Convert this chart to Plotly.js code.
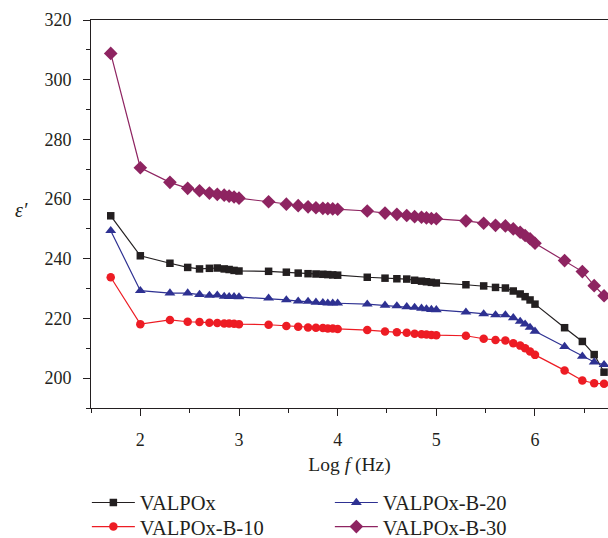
<!DOCTYPE html>
<html>
<head>
<meta charset="utf-8">
<script src="https://cdn.plot.ly/plotly-3.0.1.min.js"></script>
<style>html,body{margin:0;padding:0;background:#fff;}#chart{width:608px;height:538px;}</style>
</head>
<body>
<div id="chart"></div>
<script>
// Log f (Hz)
const logF = [1.7, 2, 2.3, 2.48, 2.6, 2.7, 2.78, 2.85, 2.9, 2.95, 3,
  3.3, 3.48, 3.6, 3.7, 3.78, 3.85, 3.9, 3.95, 4,
  4.3, 4.48, 4.6, 4.7, 4.78, 4.85, 4.9, 4.95, 5,
  5.3, 5.48, 5.6, 5.7, 5.78, 5.85, 5.9, 5.95, 6,
  6.3, 6.48, 6.6, 6.7];

const valpox = [254.4, 241.0, 238.5, 237.1, 236.6, 236.8, 236.9, 236.6, 236.4, 236.1, 235.9,
  235.8, 235.5, 235.2, 235.0, 234.9, 234.8, 234.7, 234.6, 234.5,
  233.8, 233.5, 233.3, 233.2, 232.8, 232.5, 232.3, 232.1, 231.9,
  231.3, 230.9, 230.4, 230.2, 229.2, 228.2, 227.3, 226.2, 224.8,
  216.9, 212.3, 207.9, 202.0];

const valpoxB10 = [233.8, 218.1, 219.5, 218.9, 218.8, 218.6, 218.5, 218.3, 218.3, 218.2, 218.1,
  217.9, 217.5, 217.2, 217.0, 216.9, 216.8, 216.6, 216.6, 216.5,
  216.1, 215.6, 215.4, 215.2, 214.9, 214.7, 214.6, 214.5, 214.4,
  214.2, 213.2, 212.8, 212.6, 211.7, 210.9, 210.0, 208.9, 207.8,
  202.6, 199.2, 198.3, 198.1];

const valpoxB20 = [249.4, 229.3, 228.5, 228.5, 228.0, 227.7, 227.8, 227.4, 227.3, 227.3, 227.2,
  226.8, 226.2, 225.8, 225.7, 225.4, 225.3, 225.1, 225.1, 225.1,
  224.8, 224.4, 224.2, 223.9, 223.7, 223.4, 223.2, 223.0, 222.9,
  222.1, 221.5, 221.2, 221.2, 220.2, 219.0, 218.1, 217.0, 215.7,
  210.6, 207.3, 205.4, 204.5];

const valpoxB30 = [308.8, 270.5, 265.6, 263.6, 262.8, 262.0, 261.6, 261.3, 261.0, 260.7, 260.3,
  259.1, 258.3, 257.8, 257.4, 257.1, 256.9, 256.8, 256.7, 256.6,
  256.0, 255.3, 254.9, 254.5, 254.1, 253.9, 253.7, 253.5, 253.4,
  252.7, 251.9, 251.2, 251.0, 250.0, 248.9, 247.8, 246.7, 245.2,
  239.4, 235.7, 231.0, 227.6];

const seriesNames = ['VALPOx', 'VALPOx-B-10', 'VALPOx-B-20', 'VALPOx-B-30'];

const FONT = 'Liberation Serif, Times New Roman, serif';

function tr(name, y, color, symbol, size, legend) {
  return {
    x: logF, y: y, name: name, type: 'scatter', mode: 'lines+markers',
    line: {color: color, width: 1.2},
    marker: {color: color, symbol: symbol, size: size},
    legend: legend
  };
}

const data = [
  tr(seriesNames[0], valpox, '#231f20', 'square', 7.5, 'legend'),
  tr(seriesNames[1], valpoxB10, '#ed1c24', 'circle', 8.5, 'legend2'),
  tr(seriesNames[2], valpoxB20, '#2e3192', 'triangle-up', 9.5, 'legend3'),
  tr(seriesNames[3], valpoxB30, '#8e2461', 'diamond', 10.5, 'legend4')
];

function leg(x, y) {
  return {
    x: x, y: y, orientation: 'v', xanchor: 'left', yanchor: 'middle',
    font: {family: FONT, size: 20.5, color: '#231f20'},
    bgcolor: 'rgba(0,0,0,0)', itemwidth: 43, borderwidth: 0
  };
}

const layout = {
  width: 608, height: 538,
  margin: {l: 91, r: 0, t: 20, b: 130, autoexpand: false},
  paper_bgcolor: '#fff', plot_bgcolor: '#fff',
  font: {family: FONT, size: 18, color: '#231f20'},
  showlegend: true,
  xaxis: {
    range: [1.5, 6.74], dtick: 1, tick0: 0,
    ticks: 'outside', ticklen: 7, tickwidth: 1, tickcolor: '#231f20',
    minor: {dtick: 0.5, ticks: 'outside', ticklen: 4, tickwidth: 1, tickcolor: '#231f20'},
    showline: true, linecolor: '#231f20', linewidth: 1, mirror: true,
    showgrid: false, zeroline: false,
    tickfont: {family: FONT, size: 18, color: '#231f20'},
    ticklabelstandoff: 8,
    title: {text: 'Log <i>f</i> (Hz)', font: {family: FONT, size: 19.5, color: '#231f20'}, standoff: 8}
  },
  yaxis: {
    range: [190, 320], dtick: 20, tick0: 0,
    ticks: 'outside', ticklen: 7, tickwidth: 1, tickcolor: '#231f20',
    minor: {dtick: 10, ticks: 'outside', ticklen: 4, tickwidth: 1, tickcolor: '#231f20'},
    showline: true, linecolor: '#231f20', linewidth: 1, mirror: true,
    showgrid: false, zeroline: false,
    tickfont: {family: FONT, size: 18, color: '#231f20'},
    ticklabelstandoff: 8
  },
  legend: leg(-0.008, -0.244),
  legend2: leg(-0.008, -0.306),
  legend3: leg(0.462, -0.244),
  legend4: leg(0.462, -0.306),
  annotations: [{
    xref: 'paper', yref: 'paper', x: -0.135, y: 0.51,
    xanchor: 'center', yanchor: 'middle', showarrow: false,
    text: '<i>ε′</i>', font: {family: FONT, size: 20, color: '#231f20'}
  }]
};

Plotly.newPlot('chart', data, layout, {displayModeBar: false, staticPlot: true});
</script>
</body>
</html>
